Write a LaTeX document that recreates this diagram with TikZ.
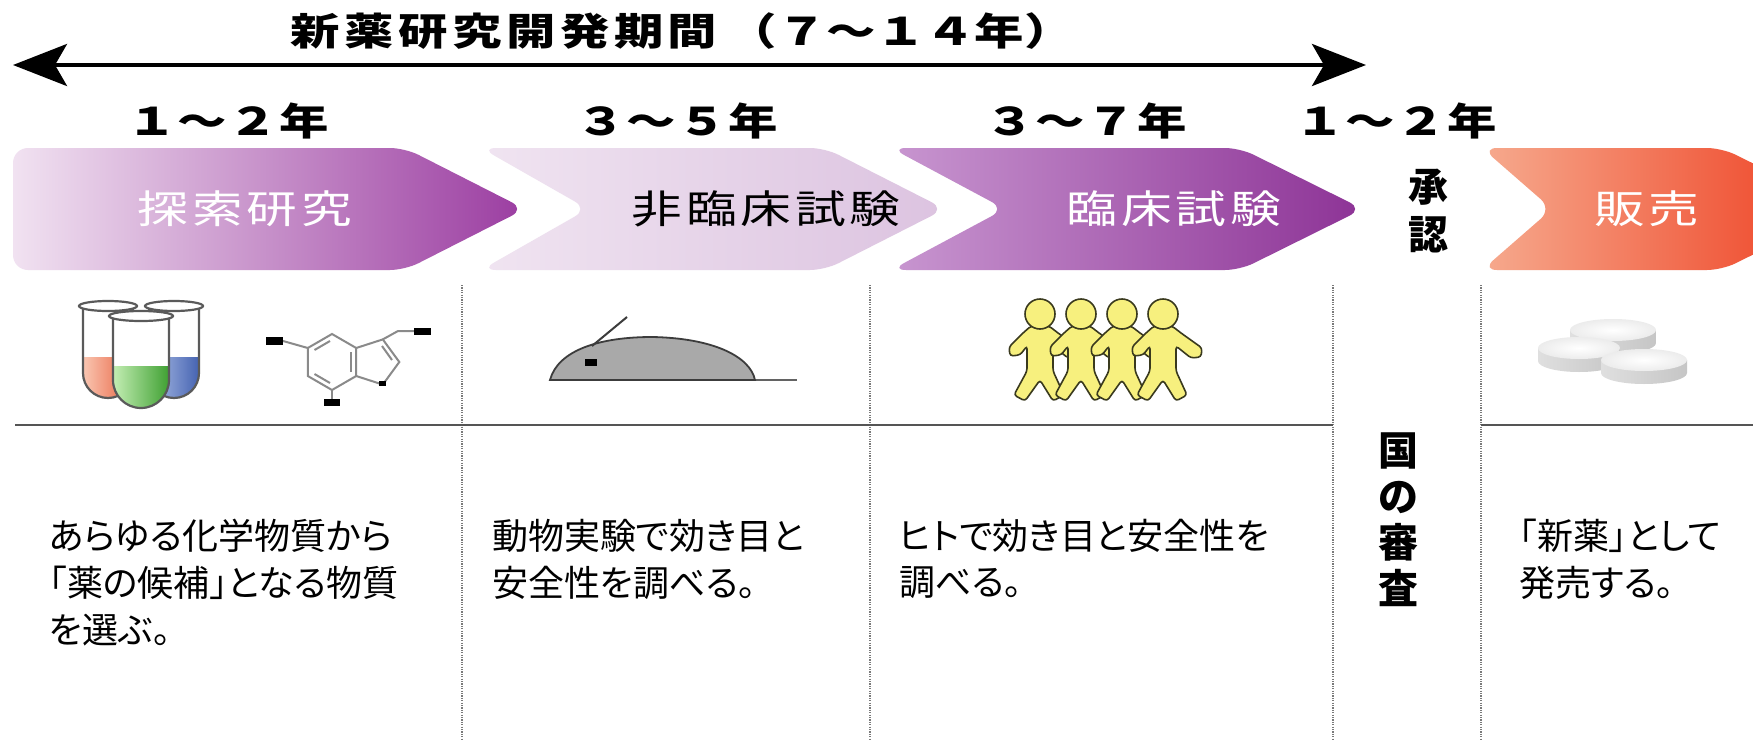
\documentclass[tikz,border=0pt]{standalone}
\usepackage{graphicx}
\usepackage{fontspec}
\setmainfont{Noto Sans CJK JP}
\newfontfamily\jptext[RawFeature=+palt]{Noto Sans CJK JP}
\usetikzlibrary{arrows.meta}

% letter-spaced text: \trk{gap}{characters}
\makeatletter
\newcommand\trk[2]{\def\trk@gap{#1}\@tfor\trk@c:=#2\do{\trk@c\hspace{\trk@gap}}\unskip}
\makeatother
% horizontally widened lettering
\newcommand\wide[2]{\scalebox{#1}[1]{#2}}

\definecolor{cAl}{HTML}{F1E2F1}
\definecolor{cAr}{HTML}{9B3DA1}
\definecolor{cBl}{HTML}{F0E4F1}
\definecolor{cBr}{HTML}{DCC3E0}
\definecolor{cCl}{HTML}{C896D0}
\definecolor{cCr}{HTML}{8D3396}
\definecolor{cDl}{HTML}{F6AA8E}
\definecolor{cDr}{HTML}{EE3A1C}
\definecolor{rulegray}{HTML}{555555}
\definecolor{sepgray}{HTML}{7A7A7A}
\definecolor{tubeedge}{HTML}{5A5A5A}
\definecolor{molgray}{HTML}{8A8A8A}
\definecolor{mousefill}{HTML}{A9A9A9}
\definecolor{mouseedge}{HTML}{3C3C3C}
\definecolor{personfill}{HTML}{F7F07E}
\definecolor{personedge}{HTML}{3A3A1E}
\definecolor{redL}{HTML}{F9C6B2}
\definecolor{redR}{HTML}{E8603E}
\definecolor{bluL}{HTML}{AFC0E6}
\definecolor{bluR}{HTML}{4563B2}
\definecolor{grnL}{HTML}{C4EEB4}
\definecolor{grnR}{HTML}{3FA032}

\tikzset{
  chevtxt/.style={font=\fontsize{39}{42}\selectfont, inner sep=0pt},
  yearlab/.style={font=\bfseries\fontsize{38}{42}\selectfont, inner sep=0pt},
  boldlab/.style={font=\bfseries\fontsize{40}{48}\selectfont, inner sep=0pt, align=center},
  bodytxt/.style={font=\jptext\fontsize{36}{40}\selectfont, inner sep=0pt, anchor=west},
  colsep/.style={draw=sepgray, line width=1.5pt, dash pattern=on 1.2pt off 1.2pt},
  hrule/.style={draw=rulegray, line width=2.5pt},
  chev/.style={rounded corners=15pt},
  tubeline/.style={draw=tubeedge, line width=2.2pt},
  molline/.style={draw=molgray, line width=2pt},
}

% one walking figure, head centre at the scope origin (y grows downwards)
\newcommand\walker{%
  \filldraw[fill=personfill, draw=personedge, line width=1.6pt, rounded corners=3pt]
    (-9,12) -- (-17,19) -- (-31,33) -- (-30,42) -- (-20,41) -- (-13,32) -- (-13,57)
    -- (-26,81) -- (-15,87) -- (0,66) -- (13,87) -- (24,81) -- (13,57) -- (13,32)
    -- (28,44) -- (38,43) -- (39,34) -- (18,19) -- (9,12) -- cycle;
  \filldraw[fill=personfill, draw=personedge, line width=1.6pt] (0,0) circle[radius=15pt];
}

\begin{document}
\begin{tikzpicture}[x=1pt, y=1pt, yscale=-1]
\useasboundingbox (0,0) rectangle (1753,739);
\fill[white] (0,0) rectangle (1753,739);
\clip (0,0) rectangle (1753,739);

% overall period arrow
\node[font=\bfseries\fontsize{38}{42}\selectfont, inner sep=0pt] (title) at (682,31)
  {\wide{1.3}{\trk{3.5pt}{新薬研究開発期間}\hspace{8pt}\trk{0pt}{（７～１４年）}}};
\coordinate (pl) at (13,65);
\coordinate (pr) at (1366,65);
\draw[line width=4pt, {Stealth[length=54pt,width=42pt,inset=12pt]}-{Stealth[length=54pt,width=42pt,inset=12pt]}] (pl) -- (pr);

% durations
\node[yearlab] (y1) at (228,121) {\wide{1.3}{\trk{1pt}{１～２年}}};
\node[yearlab] (y2) at (677,121) {\wide{1.3}{\trk{1pt}{３～５年}}};
\node[yearlab] (y3) at (1086,121) {\wide{1.3}{\trk{1pt}{３～７年}}};
\node[yearlab] (y4) at (1396,121) {\wide{1.3}{\trk{1pt}{１～２年}}};

% stage chevrons
\shade[chev, left color=cAl, right color=cAr]
  (13,148) -- (405,148) -- (525,209) -- (405,270) -- (13,270) -- cycle;
\shade[chev, left color=cBl, right color=cBr]
  (481,148) -- (825,148) -- (945,209) -- (825,270) -- (481,270) -- (588,209) -- cycle;
\shade[chev, left color=cCl, right color=cCr]
  (891,148) -- (1240,148) -- (1363,209) -- (1240,270) -- (891,270) -- (1005,209) -- cycle;
\shade[chev, left color=cDl, right color=cDr]
  (1482,148) -- (1722,148) -- (1845,209) -- (1722,270) -- (1482,270) -- (1552,209) -- cycle;

\node[chevtxt, text=white] (s1) at (245,209) {\wide{1.3}{\trk{3pt}{探索研究}}};
\node[chevtxt, text=black] (s2) at (766,209) {\wide{1.3}{\trk{3pt}{非臨床試験}}};
\node[chevtxt, text=white] (s3) at (1174,209) {\wide{1.3}{\trk{3pt}{臨床試験}}};
\node[chevtxt, text=white] (s4) at (1647,209) {\wide{1.3}{\trk{3pt}{販売}}};
\node[boldlab] (approve) at (1428,211) {承\\認};

% column separators and rule
\coordinate (d1t) at (462,285);  \coordinate (d1b) at (462,739);
\coordinate (d2t) at (870,285);  \coordinate (d2b) at (870,739);
\coordinate (d3t) at (1333,285); \coordinate (d3b) at (1333,739);
\coordinate (d4t) at (1481,285); \coordinate (d4b) at (1481,739);
\draw[colsep] (d1t) -- (d1b);
\draw[colsep] (d2t) -- (d2b);
\draw[colsep] (d3t) -- (d3b);
\draw[colsep] (d4t) -- (d4b);
\coordinate (r1a) at (15,425);   \coordinate (r1b) at (1333,425);
\coordinate (r2a) at (1481,425); \coordinate (r2b) at (1753,425);
\draw[hrule] (r1a) -- (r1b);
\draw[hrule] (r2a) -- (r2b);

% test tubes (back left, back right, front middle)
\fill[white] (83,306) -- (83,373) arc[start angle=180,end angle=0,radius=25pt] -- (133,306) -- cycle;
\shade[left color=redL, right color=redR] (83,357) -- (83,373) arc[start angle=180,end angle=0,radius=25pt] -- (133,357) -- cycle;
\draw[tubeline] (83,306) -- (83,373) arc[start angle=180,end angle=0,radius=25pt] -- (133,306);
\filldraw[fill=white, tubeline] (108,306) ellipse[x radius=29pt, y radius=5pt];

\fill[white] (149,306) -- (149,373) arc[start angle=180,end angle=0,radius=25pt] -- (199,306) -- cycle;
\shade[left color=bluL, right color=bluR] (149,357) -- (149,373) arc[start angle=180,end angle=0,radius=25pt] -- (199,357) -- cycle;
\draw[tubeline] (149,306) -- (149,373) arc[start angle=180,end angle=0,radius=25pt] -- (199,306);
\filldraw[fill=white, tubeline] (174,306) ellipse[x radius=29pt, y radius=5pt];

\fill[white] (113,316) -- (113,380) arc[start angle=180,end angle=0,radius=28pt] -- (169,316) -- cycle;
\shade[left color=grnL, right color=grnR] (113,366) -- (113,380) arc[start angle=180,end angle=0,radius=28pt] -- (169,366) -- cycle;
\draw[tubeline] (113,316) -- (113,380) arc[start angle=180,end angle=0,radius=28pt] -- (169,316);
\filldraw[fill=white, tubeline] (141,316) ellipse[x radius=32pt, y radius=5pt];

% indole skeleton
\draw[molline] (332,334) -- (356.2,348) -- (356.2,376) -- (332,390) -- (307.8,376) -- (307.8,348) -- cycle;
\draw[molline] (356.2,348) -- (382.8,339.4) -- (399.3,362) -- (382.8,384.6) -- (356.2,376);
\draw[molline] (330,341) -- (314.5,350);
\draw[molline] (351.4,352) -- (351.4,372);
\draw[molline] (330,383) -- (314.5,374);
\draw[molline] (382,346) -- (392,360);
\draw[molline] (307.8,348) -- (283,341);
\draw[molline] (332,390) -- (332,400);
\draw[molline] (382.8,339.4) -- (398,331) -- (414,331);
\fill[black] (266,337) rectangle (283,345);
\fill[black] (324,399) rectangle (340,406);
\fill[black] (414,327.5) rectangle (431,334.5);
\fill[black] (379,381) rectangle (386,386);

% mouse
\draw[line width=1.8pt, draw=mouseedge!80] (550,380) -- (797,380);
\filldraw[fill=mousefill, draw=mouseedge, line width=1.8pt]
  (550,380) .. controls (558,350) and (600,337) .. (652,337)
  .. controls (712,338) and (750,356) .. (755,380) -- cycle;
\draw[line width=2pt, draw=mouseedge] (592,346) -- (627,317);
\fill[black] (585,359) rectangle (597,366);

% walking people
\foreach \hx in {1040,1081,1122,1163} {
  \begin{scope}[shift={(\hx,314)}]
    \walker
  \end{scope}
}

% tablets
\foreach \cx/\cy/\rx in {1613/330/43, 1579/348/41, 1644/360/43} {
  \shade[left color=gray!25, right color=gray!45]
    (\cx-\rx,\cy) -- (\cx-\rx,\cy+13) arc[start angle=180,end angle=0,x radius=\rx pt,y radius=11pt] -- (\cx+\rx,\cy) -- cycle;
  \shade[inner color=white, outer color=gray!15] (\cx,\cy) ellipse[x radius=\rx pt, y radius=11pt];
}

% descriptions
\node[bodytxt] (a1) at (49,536) {あらゆる化学物質から};
\node[bodytxt] (a2) at (49,583) {「薬の候補」となる物質};
\node[bodytxt] (a3) at (49,630) {を選ぶ。};
\node[bodytxt] (b1) at (492,536) {動物実験で効き目と};
\node[bodytxt] (b2) at (492,583) {安全性を調べる。};
\node[bodytxt] (c1) at (899,536) {ヒトで効き目と安全性を};
\node[bodytxt] (c2) at (899,583) {調べる。};
\node[bodytxt] (e1) at (1519,536) {「新薬」として};
\node[bodytxt] (e2) at (1519,583) {発売する。};
\node[font=\bfseries\fontsize{40}{46}\selectfont, inner sep=0pt, align=center] (review) at (1398,520) {国\\の\\審\\査};
\end{tikzpicture}
\end{document}
